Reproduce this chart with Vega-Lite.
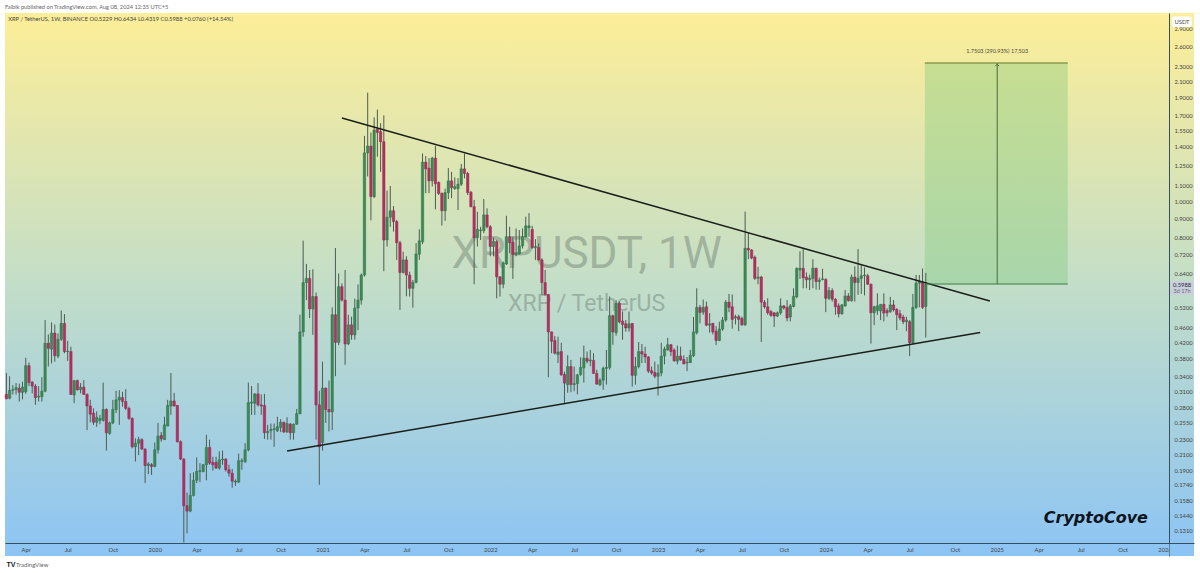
{
  "$schema": "https://vega.github.io/schema/vega-lite/v6.json",
  "description": "XRP / TetherUS weekly candles with a symmetrical triangle and a long position box.",
  "width": 1189,
  "height": 543,
  "autosize": "none",
  "padding": {"left": 5, "top": 13, "right": 6, "bottom": 17},
  "background": "white",
  "view": {
    "stroke": null,
    "fill": {
      "gradient": "linear", "x1": 0, "y1": 0, "x2": 0, "y2": 1,
      "stops": [
        {"offset": 0, "color": "#fdee98"},
        {"offset": 0.5, "color": "#c3dec8"},
        {"offset": 1, "color": "#8cc4f4"}
      ]
    }
  },
  "title": {
    "text": "Falbik published on TradingView.com, Aug 08, 2024 12:35 UTC+5",
    "anchor": "start", "frame": "group", "offset": 3, "fontSize": 5.7, "fontWeight": "normal", "font": "Lato", "color": "#666666"
  },
  "datasets": {
    "candles": [
      {"d":"2019-02-18","o":0.304,"h":0.347,"l":0.295,"c":0.296},
      {"d":"2019-02-25","o":0.297,"h":0.340,"l":0.295,"c":0.312},
      {"d":"2019-03-04","o":0.312,"h":0.322,"l":0.304,"c":0.313},
      {"d":"2019-03-11","o":0.313,"h":0.326,"l":0.304,"c":0.317},
      {"d":"2019-03-18","o":0.316,"h":0.325,"l":0.291,"c":0.308},
      {"d":"2019-03-25","o":0.308,"h":0.329,"l":0.295,"c":0.318},
      {"d":"2019-04-01","o":0.309,"h":0.381,"l":0.305,"c":0.363},
      {"d":"2019-04-08","o":0.363,"h":0.370,"l":0.320,"c":0.327},
      {"d":"2019-04-15","o":0.328,"h":0.330,"l":0.306,"c":0.320},
      {"d":"2019-04-22","o":0.320,"h":0.324,"l":0.285,"c":0.298},
      {"d":"2019-04-29","o":0.299,"h":0.320,"l":0.291,"c":0.301},
      {"d":"2019-05-06","o":0.300,"h":0.338,"l":0.291,"c":0.310},
      {"d":"2019-05-13","o":0.310,"h":0.481,"l":0.308,"c":0.417},
      {"d":"2019-05-20","o":0.417,"h":0.440,"l":0.361,"c":0.404},
      {"d":"2019-05-27","o":0.402,"h":0.474,"l":0.368,"c":0.444},
      {"d":"2019-06-03","o":0.444,"h":0.468,"l":0.372,"c":0.386},
      {"d":"2019-06-10","o":0.385,"h":0.443,"l":0.380,"c":0.427},
      {"d":"2019-06-17","o":0.427,"h":0.510,"l":0.423,"c":0.471},
      {"d":"2019-06-24","o":0.471,"h":0.499,"l":0.392,"c":0.396},
      {"d":"2019-07-01","o":0.396,"h":0.423,"l":0.374,"c":0.397},
      {"d":"2019-07-08","o":0.396,"h":0.408,"l":0.303,"c":0.304},
      {"d":"2019-07-15","o":0.303,"h":0.332,"l":0.288,"c":0.331},
      {"d":"2019-07-22","o":0.331,"h":0.333,"l":0.311,"c":0.313},
      {"d":"2019-07-29","o":0.313,"h":0.326,"l":0.306,"c":0.318},
      {"d":"2019-08-05","o":0.318,"h":0.332,"l":0.303,"c":0.304},
      {"d":"2019-08-12","o":0.304,"h":0.306,"l":0.244,"c":0.283},
      {"d":"2019-08-19","o":0.283,"h":0.294,"l":0.256,"c":0.269},
      {"d":"2019-08-26","o":0.271,"h":0.279,"l":0.252,"c":0.256},
      {"d":"2019-09-02","o":0.256,"h":0.274,"l":0.249,"c":0.264},
      {"d":"2019-09-09","o":0.259,"h":0.268,"l":0.253,"c":0.262},
      {"d":"2019-09-16","o":0.259,"h":0.327,"l":0.257,"c":0.277},
      {"d":"2019-09-23","o":0.277,"h":0.279,"l":0.215,"c":0.240},
      {"d":"2019-09-30","o":0.239,"h":0.257,"l":0.237,"c":0.255},
      {"d":"2019-10-07","o":0.255,"h":0.294,"l":0.253,"c":0.277},
      {"d":"2019-10-14","o":0.277,"h":0.311,"l":0.271,"c":0.294},
      {"d":"2019-10-21","o":0.294,"h":0.312,"l":0.252,"c":0.299},
      {"d":"2019-10-28","o":0.298,"h":0.309,"l":0.282,"c":0.291},
      {"d":"2019-11-04","o":0.291,"h":0.314,"l":0.276,"c":0.279},
      {"d":"2019-11-11","o":0.279,"h":0.282,"l":0.260,"c":0.262},
      {"d":"2019-11-18","o":0.262,"h":0.264,"l":0.218,"c":0.220},
      {"d":"2019-11-25","o":0.220,"h":0.232,"l":0.201,"c":0.225},
      {"d":"2019-12-02","o":0.225,"h":0.234,"l":0.209,"c":0.230},
      {"d":"2019-12-09","o":0.230,"h":0.232,"l":0.216,"c":0.217},
      {"d":"2019-12-16","o":0.217,"h":0.218,"l":0.176,"c":0.196},
      {"d":"2019-12-23","o":0.196,"h":0.200,"l":0.186,"c":0.198},
      {"d":"2019-12-30","o":0.197,"h":0.199,"l":0.185,"c":0.195},
      {"d":"2020-01-06","o":0.195,"h":0.226,"l":0.194,"c":0.216},
      {"d":"2020-01-13","o":0.216,"h":0.255,"l":0.211,"c":0.235},
      {"d":"2020-01-20","o":0.236,"h":0.241,"l":0.227,"c":0.231},
      {"d":"2020-01-27","o":0.230,"h":0.265,"l":0.230,"c":0.252},
      {"d":"2020-02-03","o":0.250,"h":0.294,"l":0.250,"c":0.284},
      {"d":"2020-02-10","o":0.283,"h":0.347,"l":0.268,"c":0.292},
      {"d":"2020-02-17","o":0.292,"h":0.307,"l":0.282,"c":0.283},
      {"d":"2020-02-24","o":0.284,"h":0.285,"l":0.226,"c":0.227},
      {"d":"2020-03-02","o":0.227,"h":0.229,"l":0.203,"c":0.204},
      {"d":"2020-03-09","o":0.204,"h":0.205,"l":0.122,"c":0.153},
      {"d":"2020-03-16","o":0.153,"h":0.166,"l":0.129,"c":0.148},
      {"d":"2020-03-23","o":0.148,"h":0.187,"l":0.147,"c":0.163},
      {"d":"2020-03-30","o":0.163,"h":0.188,"l":0.162,"c":0.179},
      {"d":"2020-04-06","o":0.179,"h":0.206,"l":0.176,"c":0.189},
      {"d":"2020-04-13","o":0.189,"h":0.199,"l":0.177,"c":0.190},
      {"d":"2020-04-20","o":0.189,"h":0.198,"l":0.188,"c":0.197},
      {"d":"2020-04-27","o":0.197,"h":0.237,"l":0.179,"c":0.219},
      {"d":"2020-05-04","o":0.219,"h":0.230,"l":0.197,"c":0.199},
      {"d":"2020-05-11","o":0.200,"h":0.207,"l":0.190,"c":0.197},
      {"d":"2020-05-18","o":0.200,"h":0.207,"l":0.192,"c":0.193},
      {"d":"2020-05-25","o":0.193,"h":0.214,"l":0.191,"c":0.203},
      {"d":"2020-06-01","o":0.203,"h":0.215,"l":0.197,"c":0.204},
      {"d":"2020-06-08","o":0.204,"h":0.205,"l":0.189,"c":0.191},
      {"d":"2020-06-15","o":0.191,"h":0.197,"l":0.183,"c":0.187},
      {"d":"2020-06-22","o":0.187,"h":0.192,"l":0.171,"c":0.178},
      {"d":"2020-06-29","o":0.177,"h":0.180,"l":0.173,"c":0.178},
      {"d":"2020-07-06","o":0.177,"h":0.211,"l":0.176,"c":0.202},
      {"d":"2020-07-13","o":0.201,"h":0.205,"l":0.191,"c":0.202},
      {"d":"2020-07-20","o":0.201,"h":0.225,"l":0.199,"c":0.216},
      {"d":"2020-07-27","o":0.216,"h":0.327,"l":0.214,"c":0.289},
      {"d":"2020-08-03","o":0.288,"h":0.320,"l":0.268,"c":0.290},
      {"d":"2020-08-10","o":0.288,"h":0.306,"l":0.268,"c":0.305},
      {"d":"2020-08-17","o":0.305,"h":0.326,"l":0.282,"c":0.285},
      {"d":"2020-08-24","o":0.285,"h":0.304,"l":0.268,"c":0.283},
      {"d":"2020-08-31","o":0.284,"h":0.305,"l":0.231,"c":0.240},
      {"d":"2020-09-07","o":0.240,"h":0.252,"l":0.230,"c":0.242},
      {"d":"2020-09-14","o":0.243,"h":0.254,"l":0.230,"c":0.245},
      {"d":"2020-09-21","o":0.245,"h":0.254,"l":0.220,"c":0.246},
      {"d":"2020-09-28","o":0.243,"h":0.265,"l":0.241,"c":0.249},
      {"d":"2020-10-05","o":0.248,"h":0.261,"l":0.241,"c":0.256},
      {"d":"2020-10-12","o":0.256,"h":0.257,"l":0.240,"c":0.241},
      {"d":"2020-10-19","o":0.241,"h":0.264,"l":0.240,"c":0.254},
      {"d":"2020-10-26","o":0.253,"h":0.255,"l":0.230,"c":0.240},
      {"d":"2020-11-02","o":0.240,"h":0.254,"l":0.230,"c":0.253},
      {"d":"2020-11-09","o":0.253,"h":0.278,"l":0.252,"c":0.270},
      {"d":"2020-11-16","o":0.270,"h":0.497,"l":0.269,"c":0.447},
      {"d":"2020-11-23","o":0.447,"h":0.785,"l":0.434,"c":0.606},
      {"d":"2020-11-30","o":0.606,"h":0.680,"l":0.544,"c":0.622},
      {"d":"2020-12-07","o":0.622,"h":0.655,"l":0.487,"c":0.515},
      {"d":"2020-12-14","o":0.515,"h":0.658,"l":0.439,"c":0.556},
      {"d":"2020-12-21","o":0.556,"h":0.570,"l":0.230,"c":0.285},
      {"d":"2020-12-28","o":0.285,"h":0.311,"l":0.174,"c":0.220},
      {"d":"2021-01-04","o":0.226,"h":0.372,"l":0.215,"c":0.316},
      {"d":"2021-01-11","o":0.316,"h":0.317,"l":0.255,"c":0.277},
      {"d":"2021-01-18","o":0.277,"h":0.331,"l":0.242,"c":0.273},
      {"d":"2021-01-25","o":0.273,"h":0.520,"l":0.244,"c":0.497},
      {"d":"2021-02-01","o":0.497,"h":0.750,"l":0.340,"c":0.419},
      {"d":"2021-02-08","o":0.419,"h":0.641,"l":0.412,"c":0.591},
      {"d":"2021-02-15","o":0.591,"h":0.603,"l":0.539,"c":0.544},
      {"d":"2021-02-22","o":0.544,"h":0.655,"l":0.365,"c":0.415},
      {"d":"2021-03-01","o":0.415,"h":0.497,"l":0.412,"c":0.467},
      {"d":"2021-03-08","o":0.467,"h":0.491,"l":0.426,"c":0.439},
      {"d":"2021-03-15","o":0.439,"h":0.549,"l":0.426,"c":0.518},
      {"d":"2021-03-22","o":0.518,"h":0.599,"l":0.452,"c":0.544},
      {"d":"2021-03-29","o":0.544,"h":0.641,"l":0.529,"c":0.635},
      {"d":"2021-04-05","o":0.635,"h":1.498,"l":0.629,"c":1.349},
      {"d":"2021-04-12","o":1.349,"h":1.956,"l":1.166,"c":1.407},
      {"d":"2021-04-19","o":1.407,"h":1.529,"l":0.890,"c":1.030},
      {"d":"2021-04-26","o":1.030,"h":1.680,"l":1.020,"c":1.553},
      {"d":"2021-05-03","o":1.562,"h":1.762,"l":1.317,"c":1.529},
      {"d":"2021-05-10","o":1.538,"h":1.620,"l":1.200,"c":1.445},
      {"d":"2021-05-17","o":1.445,"h":1.700,"l":0.650,"c":0.788},
      {"d":"2021-05-24","o":0.788,"h":1.069,"l":0.757,"c":0.907},
      {"d":"2021-05-31","o":0.907,"h":1.100,"l":0.855,"c":0.944},
      {"d":"2021-06-07","o":0.944,"h":0.972,"l":0.830,"c":0.883},
      {"d":"2021-06-14","o":0.883,"h":0.892,"l":0.697,"c":0.775},
      {"d":"2021-06-21","o":0.775,"h":0.784,"l":0.512,"c":0.645},
      {"d":"2021-06-28","o":0.645,"h":0.733,"l":0.641,"c":0.697},
      {"d":"2021-07-05","o":0.697,"h":0.713,"l":0.557,"c":0.635},
      {"d":"2021-07-12","o":0.635,"h":0.648,"l":0.556,"c":0.585},
      {"d":"2021-07-19","o":0.585,"h":0.616,"l":0.519,"c":0.607},
      {"d":"2021-07-26","o":0.607,"h":0.773,"l":0.603,"c":0.723},
      {"d":"2021-08-02","o":0.722,"h":0.842,"l":0.697,"c":0.784},
      {"d":"2021-08-09","o":0.780,"h":1.344,"l":0.768,"c":1.274},
      {"d":"2021-08-16","o":1.274,"h":1.323,"l":1.052,"c":1.222},
      {"d":"2021-08-23","o":1.228,"h":1.306,"l":1.052,"c":1.135},
      {"d":"2021-08-30","o":1.135,"h":1.317,"l":1.096,"c":1.306},
      {"d":"2021-09-06","o":1.306,"h":1.410,"l":0.952,"c":1.115},
      {"d":"2021-09-13","o":1.125,"h":1.130,"l":1.040,"c":1.050},
      {"d":"2021-09-20","o":1.052,"h":1.055,"l":0.862,"c":0.944},
      {"d":"2021-09-27","o":0.944,"h":1.082,"l":0.887,"c":1.056},
      {"d":"2021-10-04","o":1.056,"h":1.228,"l":1.015,"c":1.135},
      {"d":"2021-10-11","o":1.135,"h":1.200,"l":1.020,"c":1.088},
      {"d":"2021-10-18","o":1.083,"h":1.160,"l":1.073,"c":1.095},
      {"d":"2021-10-25","o":1.082,"h":1.155,"l":0.948,"c":1.112},
      {"d":"2021-11-01","o":1.112,"h":1.260,"l":1.100,"c":1.222},
      {"d":"2021-11-08","o":1.222,"h":1.344,"l":1.153,"c":1.188},
      {"d":"2021-11-15","o":1.188,"h":1.200,"l":1.040,"c":1.056},
      {"d":"2021-11-22","o":1.058,"h":1.067,"l":0.964,"c":0.968},
      {"d":"2021-11-29","o":0.968,"h":1.009,"l":0.600,"c":0.800},
      {"d":"2021-12-06","o":0.800,"h":0.938,"l":0.757,"c":0.842},
      {"d":"2021-12-13","o":0.835,"h":0.855,"l":0.788,"c":0.838},
      {"d":"2021-12-20","o":0.835,"h":1.015,"l":0.822,"c":0.920},
      {"d":"2021-12-27","o":0.920,"h":0.958,"l":0.846,"c":0.855},
      {"d":"2022-01-03","o":0.855,"h":0.864,"l":0.713,"c":0.757},
      {"d":"2022-01-10","o":0.757,"h":0.800,"l":0.713,"c":0.783},
      {"d":"2022-01-17","o":0.780,"h":0.788,"l":0.550,"c":0.628},
      {"d":"2022-01-24","o":0.628,"h":0.630,"l":0.556,"c":0.600},
      {"d":"2022-01-31","o":0.600,"h":0.690,"l":0.585,"c":0.684},
      {"d":"2022-02-07","o":0.680,"h":0.915,"l":0.676,"c":0.804},
      {"d":"2022-02-14","o":0.804,"h":0.855,"l":0.726,"c":0.775},
      {"d":"2022-02-21","o":0.777,"h":0.804,"l":0.620,"c":0.720},
      {"d":"2022-02-28","o":0.720,"h":0.846,"l":0.713,"c":0.727},
      {"d":"2022-03-07","o":0.724,"h":0.838,"l":0.720,"c":0.760},
      {"d":"2022-03-14","o":0.760,"h":0.846,"l":0.748,"c":0.804},
      {"d":"2022-03-21","o":0.804,"h":0.910,"l":0.800,"c":0.860},
      {"d":"2022-03-28","o":0.850,"h":0.930,"l":0.804,"c":0.860},
      {"d":"2022-04-04","o":0.841,"h":0.860,"l":0.746,"c":0.752},
      {"d":"2022-04-11","o":0.752,"h":0.792,"l":0.697,"c":0.757},
      {"d":"2022-04-18","o":0.752,"h":0.772,"l":0.694,"c":0.697},
      {"d":"2022-04-25","o":0.697,"h":0.704,"l":0.562,"c":0.606},
      {"d":"2022-05-02","o":0.606,"h":0.655,"l":0.560,"c":0.563},
      {"d":"2022-05-09","o":0.563,"h":0.565,"l":0.338,"c":0.447},
      {"d":"2022-05-16","o":0.447,"h":0.448,"l":0.392,"c":0.422},
      {"d":"2022-05-23","o":0.424,"h":0.436,"l":0.389,"c":0.392},
      {"d":"2022-05-30","o":0.389,"h":0.434,"l":0.369,"c":0.395},
      {"d":"2022-06-06","o":0.396,"h":0.418,"l":0.341,"c":0.343},
      {"d":"2022-06-13","o":0.344,"h":0.350,"l":0.288,"c":0.326},
      {"d":"2022-06-20","o":0.323,"h":0.387,"l":0.307,"c":0.361},
      {"d":"2022-06-27","o":0.361,"h":0.376,"l":0.308,"c":0.323},
      {"d":"2022-07-04","o":0.323,"h":0.361,"l":0.310,"c":0.325},
      {"d":"2022-07-11","o":0.325,"h":0.345,"l":0.304,"c":0.343},
      {"d":"2022-07-18","o":0.344,"h":0.382,"l":0.341,"c":0.359},
      {"d":"2022-07-25","o":0.358,"h":0.411,"l":0.327,"c":0.380},
      {"d":"2022-08-01","o":0.380,"h":0.396,"l":0.368,"c":0.373},
      {"d":"2022-08-08","o":0.374,"h":0.400,"l":0.362,"c":0.376},
      {"d":"2022-08-15","o":0.375,"h":0.392,"l":0.345,"c":0.346},
      {"d":"2022-08-22","o":0.346,"h":0.354,"l":0.323,"c":0.324},
      {"d":"2022-08-29","o":0.323,"h":0.336,"l":0.320,"c":0.332},
      {"d":"2022-09-05","o":0.332,"h":0.361,"l":0.313,"c":0.357},
      {"d":"2022-09-12","o":0.357,"h":0.400,"l":0.323,"c":0.359},
      {"d":"2022-09-19","o":0.359,"h":0.556,"l":0.354,"c":0.494},
      {"d":"2022-09-26","o":0.494,"h":0.497,"l":0.413,"c":0.447},
      {"d":"2022-10-03","o":0.445,"h":0.544,"l":0.437,"c":0.533},
      {"d":"2022-10-10","o":0.533,"h":0.539,"l":0.471,"c":0.476},
      {"d":"2022-10-17","o":0.478,"h":0.507,"l":0.426,"c":0.468},
      {"d":"2022-10-24","o":0.470,"h":0.481,"l":0.448,"c":0.458},
      {"d":"2022-10-31","o":0.458,"h":0.507,"l":0.448,"c":0.470},
      {"d":"2022-11-07","o":0.471,"h":0.472,"l":0.319,"c":0.342},
      {"d":"2022-11-14","o":0.342,"h":0.383,"l":0.323,"c":0.361},
      {"d":"2022-11-21","o":0.361,"h":0.420,"l":0.357,"c":0.396},
      {"d":"2022-11-28","o":0.396,"h":0.415,"l":0.369,"c":0.390},
      {"d":"2022-12-05","o":0.390,"h":0.408,"l":0.369,"c":0.383},
      {"d":"2022-12-12","o":0.383,"h":0.385,"l":0.347,"c":0.351},
      {"d":"2022-12-19","o":0.352,"h":0.361,"l":0.343,"c":0.347},
      {"d":"2022-12-26","o":0.348,"h":0.372,"l":0.336,"c":0.340},
      {"d":"2023-01-02","o":0.340,"h":0.366,"l":0.302,"c":0.347},
      {"d":"2023-01-09","o":0.347,"h":0.418,"l":0.340,"c":0.385},
      {"d":"2023-01-16","o":0.385,"h":0.408,"l":0.366,"c":0.402},
      {"d":"2023-01-23","o":0.400,"h":0.431,"l":0.398,"c":0.413},
      {"d":"2023-01-30","o":0.413,"h":0.415,"l":0.385,"c":0.396},
      {"d":"2023-02-06","o":0.400,"h":0.404,"l":0.372,"c":0.374},
      {"d":"2023-02-13","o":0.373,"h":0.411,"l":0.366,"c":0.385},
      {"d":"2023-02-20","o":0.385,"h":0.408,"l":0.374,"c":0.376},
      {"d":"2023-02-27","o":0.377,"h":0.387,"l":0.366,"c":0.367},
      {"d":"2023-03-06","o":0.369,"h":0.383,"l":0.351,"c":0.371},
      {"d":"2023-03-13","o":0.370,"h":0.400,"l":0.369,"c":0.387},
      {"d":"2023-03-20","o":0.386,"h":0.490,"l":0.383,"c":0.447},
      {"d":"2023-03-27","o":0.445,"h":0.585,"l":0.440,"c":0.520},
      {"d":"2023-04-03","o":0.520,"h":0.528,"l":0.471,"c":0.504},
      {"d":"2023-04-10","o":0.505,"h":0.546,"l":0.497,"c":0.520},
      {"d":"2023-04-17","o":0.522,"h":0.539,"l":0.463,"c":0.466},
      {"d":"2023-04-24","o":0.466,"h":0.502,"l":0.445,"c":0.470},
      {"d":"2023-05-01","o":0.471,"h":0.473,"l":0.440,"c":0.447},
      {"d":"2023-05-08","o":0.449,"h":0.463,"l":0.412,"c":0.424},
      {"d":"2023-05-15","o":0.424,"h":0.476,"l":0.422,"c":0.455},
      {"d":"2023-05-22","o":0.455,"h":0.490,"l":0.450,"c":0.481},
      {"d":"2023-05-29","o":0.481,"h":0.544,"l":0.476,"c":0.537},
      {"d":"2023-06-05","o":0.537,"h":0.565,"l":0.505,"c":0.520},
      {"d":"2023-06-12","o":0.522,"h":0.563,"l":0.456,"c":0.483},
      {"d":"2023-06-19","o":0.487,"h":0.497,"l":0.468,"c":0.491},
      {"d":"2023-06-26","o":0.491,"h":0.497,"l":0.449,"c":0.483},
      {"d":"2023-07-03","o":0.486,"h":0.491,"l":0.464,"c":0.467},
      {"d":"2023-07-10","o":0.467,"h":0.939,"l":0.464,"c":0.749},
      {"d":"2023-07-17","o":0.749,"h":0.826,"l":0.700,"c":0.741},
      {"d":"2023-07-24","o":0.741,"h":0.745,"l":0.700,"c":0.705},
      {"d":"2023-07-31","o":0.709,"h":0.716,"l":0.616,"c":0.622},
      {"d":"2023-08-07","o":0.622,"h":0.668,"l":0.600,"c":0.627},
      {"d":"2023-08-14","o":0.627,"h":0.632,"l":0.420,"c":0.537},
      {"d":"2023-08-21","o":0.537,"h":0.544,"l":0.516,"c":0.522},
      {"d":"2023-08-28","o":0.522,"h":0.550,"l":0.497,"c":0.503},
      {"d":"2023-09-04","o":0.507,"h":0.512,"l":0.491,"c":0.495},
      {"d":"2023-09-11","o":0.503,"h":0.504,"l":0.461,"c":0.493},
      {"d":"2023-09-18","o":0.493,"h":0.507,"l":0.490,"c":0.503},
      {"d":"2023-09-25","o":0.503,"h":0.550,"l":0.497,"c":0.525},
      {"d":"2023-10-02","o":0.525,"h":0.527,"l":0.513,"c":0.518},
      {"d":"2023-10-09","o":0.520,"h":0.544,"l":0.477,"c":0.487},
      {"d":"2023-10-16","o":0.490,"h":0.531,"l":0.477,"c":0.525},
      {"d":"2023-10-23","o":0.523,"h":0.585,"l":0.520,"c":0.557},
      {"d":"2023-10-30","o":0.555,"h":0.665,"l":0.550,"c":0.662},
      {"d":"2023-11-06","o":0.655,"h":0.735,"l":0.620,"c":0.662},
      {"d":"2023-11-13","o":0.662,"h":0.750,"l":0.585,"c":0.624},
      {"d":"2023-11-20","o":0.627,"h":0.645,"l":0.585,"c":0.617},
      {"d":"2023-11-27","o":0.617,"h":0.637,"l":0.579,"c":0.623},
      {"d":"2023-12-04","o":0.622,"h":0.700,"l":0.585,"c":0.662},
      {"d":"2023-12-11","o":0.662,"h":0.664,"l":0.580,"c":0.610},
      {"d":"2023-12-18","o":0.610,"h":0.625,"l":0.580,"c":0.615},
      {"d":"2023-12-25","o":0.617,"h":0.660,"l":0.615,"c":0.620},
      {"d":"2024-01-01","o":0.618,"h":0.622,"l":0.505,"c":0.550},
      {"d":"2024-01-08","o":0.550,"h":0.590,"l":0.544,"c":0.577},
      {"d":"2024-01-15","o":0.577,"h":0.585,"l":0.539,"c":0.547},
      {"d":"2024-01-22","o":0.547,"h":0.550,"l":0.497,"c":0.522},
      {"d":"2024-01-29","o":0.525,"h":0.533,"l":0.489,"c":0.500},
      {"d":"2024-02-05","o":0.500,"h":0.531,"l":0.497,"c":0.528},
      {"d":"2024-02-12","o":0.525,"h":0.579,"l":0.522,"c":0.558},
      {"d":"2024-02-19","o":0.558,"h":0.568,"l":0.539,"c":0.542},
      {"d":"2024-02-26","o":0.542,"h":0.637,"l":0.539,"c":0.627},
      {"d":"2024-03-04","o":0.627,"h":0.670,"l":0.539,"c":0.606},
      {"d":"2024-03-11","o":0.606,"h":0.745,"l":0.562,"c":0.622},
      {"d":"2024-03-18","o":0.622,"h":0.675,"l":0.565,"c":0.632},
      {"d":"2024-03-25","o":0.632,"h":0.665,"l":0.560,"c":0.635},
      {"d":"2024-04-01","o":0.632,"h":0.640,"l":0.597,"c":0.600},
      {"d":"2024-04-08","o":0.600,"h":0.602,"l":0.416,"c":0.503},
      {"d":"2024-04-15","o":0.503,"h":0.525,"l":0.466,"c":0.522},
      {"d":"2024-04-22","o":0.510,"h":0.567,"l":0.497,"c":0.525},
      {"d":"2024-04-29","o":0.509,"h":0.530,"l":0.481,"c":0.530},
      {"d":"2024-05-06","o":0.530,"h":0.567,"l":0.477,"c":0.502},
      {"d":"2024-05-13","o":0.510,"h":0.517,"l":0.491,"c":0.503},
      {"d":"2024-05-20","o":0.506,"h":0.555,"l":0.503,"c":0.528},
      {"d":"2024-05-27","o":0.528,"h":0.544,"l":0.507,"c":0.512},
      {"d":"2024-06-03","o":0.514,"h":0.517,"l":0.452,"c":0.497},
      {"d":"2024-06-10","o":0.500,"h":0.512,"l":0.480,"c":0.487},
      {"d":"2024-06-17","o":0.490,"h":0.497,"l":0.469,"c":0.476},
      {"d":"2024-06-24","o":0.476,"h":0.491,"l":0.449,"c":0.481},
      {"d":"2024-07-01","o":0.476,"h":0.481,"l":0.385,"c":0.418},
      {"d":"2024-07-08","o":0.418,"h":0.565,"l":0.414,"c":0.520},
      {"d":"2024-07-15","o":0.520,"h":0.635,"l":0.515,"c":0.604},
      {"d":"2024-07-22","o":0.604,"h":0.635,"l":0.520,"c":0.610},
      {"d":"2024-07-29","o":0.605,"h":0.661,"l":0.515,"c":0.520},
      {"d":"2024-08-05","o":0.5229,"h":0.6434,"l":0.4319,"c":0.5988}
    ]
  },
  "encoding": {
    "x": {
      "field": "d",
      "type": "temporal",
      "title": null,
      "scale": {"domain": ["2019-02-15", "2026-03-10"], "nice": false, "padding": 0},
      "axis": {
        "offset": -13,
        "grid": false,
        "ticks": false,
        "domainColor": "#35505c",
        "labelFontSize": 5.8,
        "labelFont": "Lato",
        "labelColor": "#444444",
        "labelPadding": 3,
        "labelOverlap": false,
        "labelFlush": false,
        "values": ["2019-04-01","2019-07-01","2019-10-07","2020-01-06","2020-04-06","2020-07-06","2020-10-05","2021-01-04","2021-04-05","2021-07-05","2021-10-04","2022-01-03","2022-04-04","2022-07-04","2022-10-03","2023-01-02","2023-04-03","2023-07-03","2023-10-02","2024-01-01","2024-04-01","2024-07-01","2024-10-07","2025-01-06","2025-04-07","2025-07-07","2025-10-06","2026-01-05"],
        "labelExpr": "utcmonth(datum.value) == 0 ? utcFormat(datum.value, '%Y') : utcFormat(datum.value, '%b')"
      }
    }
  },
  "layer": [
    {
      "data": {"values": [
        {"d": "2022-07-31", "p": 0.717, "t": "XRPUSDT, 1W"}
      ]},
      "mark": {"type": "text", "font": "Roboto", "fontSize": 44, "color": "#5c6b60", "opacity": 0.38, "align": "center", "baseline": "middle"},
      "encoding": {
        "y": {"field": "p", "type": "quantitative"},
        "text": {"field": "t"}
      }
    },
    {
      "data": {"values": [
        {"d": "2022-07-31", "p": 0.531, "t": "XRP / TetherUS"}
      ]},
      "mark": {"type": "text", "font": "Roboto", "fontSize": 23, "color": "#5c6b60", "opacity": 0.38, "align": "center", "baseline": "middle"},
      "encoding": {
        "y": {"field": "p", "type": "quantitative"},
        "text": {"field": "t"}
      }
    },
    {
      "data": {"values": [
        {"d": "2024-08-03", "d2": "2025-06-09", "p": 0.6007, "p2": 2.348}
      ], "format": {"parse": {"d2": "date"}}},
      "mark": {"type": "rect", "color": "#76c776", "opacity": 0.35},
      "encoding": {
        "x2": {"field": "d2"},
        "y": {"field": "p", "type": "quantitative"},
        "y2": {"field": "p2"}
      }
    },
    {
      "data": {"name": "candles"},
      "mark": {"type": "rule", "color": "#4d5c52", "strokeWidth": 1},
      "encoding": {
        "y": {
          "field": "h",
          "type": "quantitative",
          "title": null,
          "scale": {"type": "log", "domain": [0.1122, 3.197], "nice": false, "zero": false},
          "axis": {
            "orient": "right",
            "offset": -25,
            "title": null,
            "grid": false,
            "ticks": false,
            "domainColor": "#35505c",
            "labelFontSize": 5.8,
            "labelFont": "Lato",
            "labelColor": "#444444",
            "labelPadding": 5,
            "labelOverlap": false,
            "labelFlush": false,
            "format": ".4f",
            "values": [0.131,0.144,0.158,0.174,0.19,0.21,0.23,0.255,0.28,0.31,0.34,0.38,0.42,0.46,0.52,0.64,0.72,0.8,0.9,1,1.1,1.25,1.4,1.55,1.7,1.9,2.1,2.3,2.6,2.9]
          }
        },
        "y2": {"field": "l"}
      }
    },
    {
      "data": {"name": "candles"},
      "mark": {"type": "bar", "size": 2.4, "strokeWidth": 0.5},
      "encoding": {
        "y": {"field": "o", "type": "quantitative"},
        "y2": {"field": "c"},
        "color": {"condition": {"test": "datum.o > datum.c", "value": "#b62f5f"}, "value": "#3c8a56"},
        "stroke": {"condition": {"test": "datum.o > datum.c", "value": "#8f2a55"}, "value": "#2f7048"}
      }
    },
    {
      "data": {"values": [
        {"d": "2021-02-15", "p": 1.673, "s": "upper"},
        {"d": "2024-12-22", "p": 0.541, "s": "upper"},
        {"d": "2020-10-19", "p": 0.2144, "s": "lower"},
        {"d": "2024-12-01", "p": 0.4454, "s": "lower"}
      ]},
      "mark": {"type": "line", "color": "#1a1f1a", "strokeWidth": 1.5},
      "encoding": {
        "y": {"field": "p", "type": "quantitative"},
        "detail": {"field": "s"}
      }
    },
    {
      "data": {"values": [
        {"d": "2024-08-03", "d2": "2025-06-09", "p": 2.348}
      ], "format": {"parse": {"d2": "date"}}},
      "mark": {"type": "rule", "color": "#8d9a4d", "strokeWidth": 1.5},
      "encoding": {
        "x2": {"field": "d2"},
        "y": {"field": "p", "type": "quantitative"}
      }
    },
    {
      "data": {"values": [
        {"d": "2024-08-03", "d2": "2025-06-09", "p": 0.6007}
      ], "format": {"parse": {"d2": "date"}}},
      "mark": {"type": "rule", "color": "#3a7a4a", "strokeWidth": 1},
      "encoding": {
        "x2": {"field": "d2"},
        "y": {"field": "p", "type": "quantitative"}
      }
    },
    {
      "data": {"values": [
        {"d": "2025-01-07", "p": 0.6007, "p2": 2.348}
      ]},
      "mark": {"type": "rule", "color": "#4a6b3a", "strokeWidth": 1},
      "encoding": {
        "y": {"field": "p", "type": "quantitative"},
        "y2": {"field": "p2"}
      }
    },
    {
      "data": {"values": [
        {"d": "2025-01-07", "p": 2.33}
      ]},
      "mark": {"type": "point", "shape": "M-1 1L0 0L1 1", "size": 14, "filled": false, "color": "#4a6b3a", "strokeWidth": 1, "opacity": 1},
      "encoding": {
        "y": {"field": "p", "type": "quantitative"}
      }
    },
    {
      "data": {"values": [
        {"d": "2025-01-07", "p": 2.53, "t": "1.7503 (290.93%) 17,503"}
      ]},
      "mark": {"type": "text", "font": "Lato", "fontSize": 5.5, "color": "#4a4a3a", "align": "center", "baseline": "middle"},
      "encoding": {
        "y": {"field": "p", "type": "quantitative"},
        "text": {"field": "t"}
      }
    },
    {
      "data": {"values": [
        {"d": "2019-02-22", "p": 3.08, "t": "XRP / TetherUS, 1W, BINANCE  O0.5229  H0.6434  L0.4319  C0.5988  +0.0760 (+14.54%)"}
      ]},
      "mark": {"type": "text", "font": "Lato", "fontSize": 5.8, "color": "#444444", "align": "left", "baseline": "middle"},
      "encoding": {
        "y": {"field": "p", "type": "quantitative"},
        "text": {"field": "t"}
      }
    },
    {
      "data": {"values": [
        {"d": "2025-08-09", "p": 0.1418, "t": "CryptoCove"}
      ]},
      "mark": {"type": "text", "font": "DejaVu Sans", "fontSize": 16, "fontWeight": "bold", "fontStyle": "italic", "color": "#0d1420", "align": "center", "baseline": "middle"},
      "encoding": {
        "y": {"field": "p", "type": "quantitative"},
        "text": {"field": "t"}
      }
    },
    {
      "data": {"values": [
        {"d": "2026-01-16", "d2": "2026-03-10", "p": 0.1208, "p2": 0.1122}
      ], "format": {"parse": {"d2": "date"}}},
      "mark": {"type": "rect", "color": "#8cc4f4"},
      "encoding": {
        "x2": {"field": "d2"},
        "y": {"field": "p", "type": "quantitative"},
        "y2": {"field": "p2"}
      }
    },
    {
      "data": {"values": [
        {"d": "2026-01-17", "d2": "2026-03-10", "p": 0.612, "p2": 0.561}
      ], "format": {"parse": {"d2": "date"}}},
      "mark": {"type": "rect", "color": "#c9cfdc"},
      "encoding": {
        "x2": {"field": "d2"},
        "y": {"field": "p", "type": "quantitative"},
        "y2": {"field": "p2"}
      }
    },
    {
      "data": {"values": [
        {"d": "2026-02-12", "p": 0.596, "t": "0.5988"}
      ]},
      "mark": {"type": "text", "font": "Lato", "fontSize": 5.8, "color": "#2a2a33", "align": "center", "baseline": "middle"},
      "encoding": {
        "y": {"field": "p", "type": "quantitative"},
        "text": {"field": "t"}
      }
    },
    {
      "data": {"values": [
        {"d": "2026-02-12", "p": 0.5745, "t": "3d 17h"}
      ]},
      "mark": {"type": "text", "font": "Lato", "fontSize": 5.5, "color": "#666670", "align": "center", "baseline": "middle"},
      "encoding": {
        "y": {"field": "p", "type": "quantitative"},
        "text": {"field": "t"}
      }
    },
    {
      "data": {"values": [
        {"d": "2026-01-21", "d2": "2026-03-05", "p": 3.13, "p2": 2.93}
      ], "format": {"parse": {"d2": "date"}}},
      "mark": {"type": "rect", "color": "white", "cornerRadius": 2},
      "encoding": {
        "x2": {"field": "d2"},
        "y": {"field": "p", "type": "quantitative"},
        "y2": {"field": "p2"}
      }
    },
    {
      "data": {"values": [
        {"d": "2026-02-12", "p": 3.025, "t": "USDT"}
      ]},
      "mark": {"type": "text", "font": "Lato", "fontSize": 5.8, "color": "#444444", "align": "center", "baseline": "middle"},
      "encoding": {
        "y": {"field": "p", "type": "quantitative"},
        "text": {"field": "t"}
      }
    },
    {
      "data": {"values": [
        {"d": "2019-02-18", "p": 0.1061, "t": "TV"}
      ]},
      "mark": {"type": "text", "font": "Liberation Sans", "fontSize": 7, "fontWeight": "bold", "color": "#1a1a1a", "align": "left", "baseline": "middle"},
      "encoding": {
        "y": {"field": "p", "type": "quantitative"},
        "text": {"field": "t"}
      }
    },
    {
      "data": {"values": [
        {"d": "2019-03-11", "p": 0.1061, "t": "TradingView"}
      ]},
      "mark": {"type": "text", "font": "Lato", "fontSize": 6, "color": "#666666", "align": "left", "baseline": "middle"},
      "encoding": {
        "y": {"field": "p", "type": "quantitative"},
        "text": {"field": "t"}
      }
    }
  ]
}
